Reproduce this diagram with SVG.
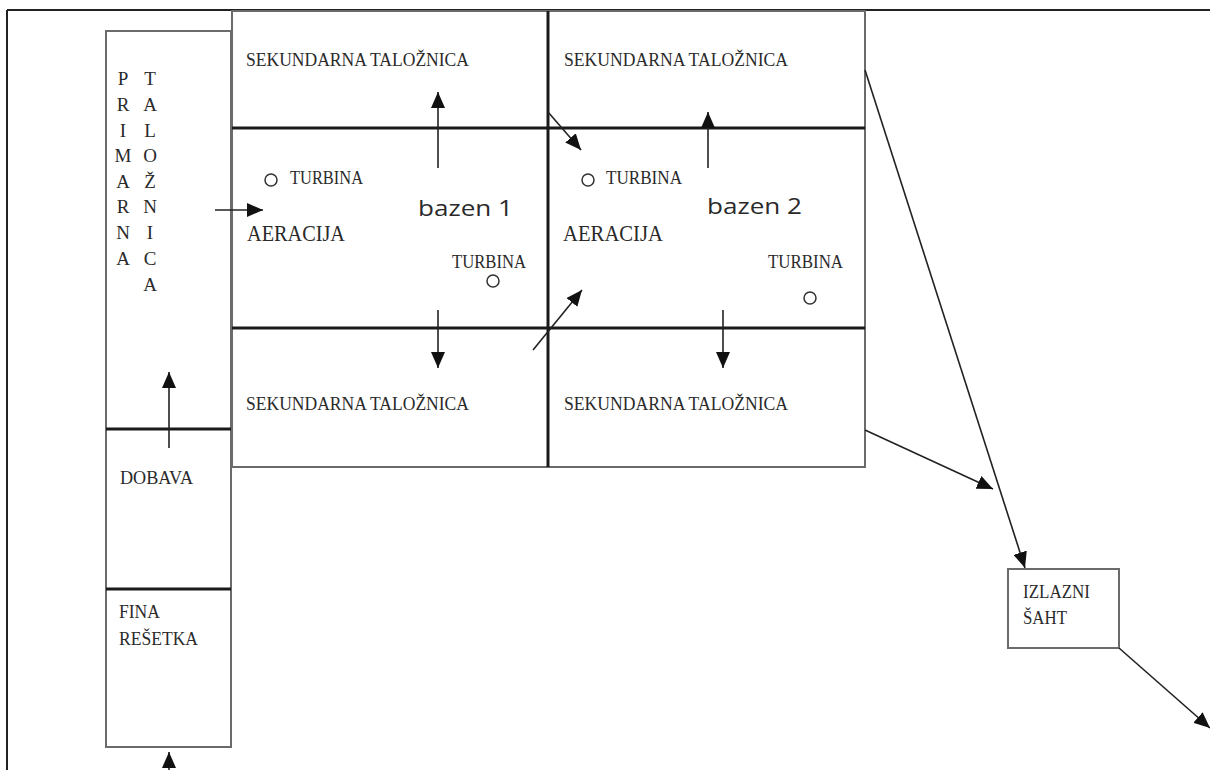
<svg xmlns="http://www.w3.org/2000/svg" width="1210" height="770" viewBox="0 0 1210 770">
<style>
.box{fill:none;stroke:#6b6b6b;stroke-width:2}
.div{stroke:#1a1a1a;stroke-width:3}
.t{font-family:"Liberation Serif","Times New Roman",serif;fill:#2a2a2a;}
.s{font-family:"Open Sans","DejaVu Sans",sans-serif;fill:#2a2a2a;}
.c{fill:none;stroke:#333;stroke-width:1.5}
.a{stroke:#222;stroke-width:1.6;fill:none;marker-end:url(#ah)}
</style>
<defs>
<marker id="ah" viewBox="0 0 16 14" refX="16" refY="7" markerWidth="16" markerHeight="14" markerUnits="userSpaceOnUse" orient="auto">
<path d="M0,0 L16,7 L0,14 z" fill="#111"/>
</marker>
</defs>
<rect width="1210" height="770" fill="#fff"/>
<g id="frame">
<line x1="7" y1="10" x2="1210" y2="10" stroke="#222" stroke-width="2"/>
<line x1="7" y1="10" x2="7" y2="770" stroke="#222" stroke-width="2"/>
</g>
<g id="primarna">
<rect class="box" x="106" y="31" width="125" height="716"/>
<line class="div" x1="106" y1="429" x2="231" y2="429"/>
<line class="div" x1="106" y1="589" x2="231" y2="589"/>
<g class="t" font-size="19" text-anchor="middle">
<text x="123" y="85">P</text><text x="123" y="111">R</text><text x="123" y="137">I</text><text x="123" y="162">M</text><text x="123" y="188">A</text><text x="123" y="213">R</text><text x="123" y="239">N</text><text x="123" y="265">A</text>
<text x="150" y="85">T</text><text x="150" y="111">A</text><text x="150" y="137">L</text><text x="150" y="162">O</text><text x="150" y="188">Ž</text><text x="150" y="213">N</text><text x="150" y="239">I</text><text x="150" y="265">C</text><text x="150" y="291">A</text>
</g>
</g>
<g id="dobava">
<text class="t" x="120" y="484" font-size="19" textLength="73" lengthAdjust="spacingAndGlyphs">DOBAVA</text>
</g>
<g id="fina">
<text class="t" x="119" y="618" font-size="19" textLength="41" lengthAdjust="spacingAndGlyphs">FINA</text>
<text class="t" x="119" y="645" font-size="19" textLength="79" lengthAdjust="spacingAndGlyphs">REŠETKA</text>
</g>
<g id="grid">
<rect class="box" x="232" y="11" width="633" height="456"/>
<line class="div" x1="232" y1="128" x2="865" y2="128"/>
<line class="div" x1="232" y1="328" x2="865" y2="328"/>
<line class="div" x1="548" y1="11" x2="548" y2="467"/>
</g>
<g id="sek1"><text class="t" x="246" y="66" font-size="19" textLength="223" lengthAdjust="spacingAndGlyphs">SEKUNDARNA TALOŽNICA</text></g>
<g id="sek2"><text class="t" x="564" y="66" font-size="19" textLength="224" lengthAdjust="spacingAndGlyphs">SEKUNDARNA TALOŽNICA</text></g>
<g id="sek3"><text class="t" x="246" y="410" font-size="19" textLength="223" lengthAdjust="spacingAndGlyphs">SEKUNDARNA TALOŽNICA</text></g>
<g id="sek4"><text class="t" x="564" y="410" font-size="19" textLength="224" lengthAdjust="spacingAndGlyphs">SEKUNDARNA TALOŽNICA</text></g>
<g id="bazen1">
<circle class="c" cx="271" cy="180" r="6"/>
<text class="t" x="290" y="184" font-size="18" textLength="73" lengthAdjust="spacingAndGlyphs">TURBINA</text>
<text class="s" x="418" y="216" font-size="21" textLength="95" lengthAdjust="spacingAndGlyphs">bazen 1</text>
<text class="t" x="247" y="241" font-size="23" textLength="98" lengthAdjust="spacingAndGlyphs">AERACIJA</text>
<text class="t" x="452" y="268" font-size="18" textLength="74" lengthAdjust="spacingAndGlyphs">TURBINA</text>
<circle class="c" cx="493" cy="281" r="6"/>
</g>
<g id="bazen2">
<circle class="c" cx="588" cy="180" r="6"/>
<text class="t" x="606" y="184" font-size="18" textLength="76" lengthAdjust="spacingAndGlyphs">TURBINA</text>
<text class="s" x="707" y="214" font-size="21" textLength="95" lengthAdjust="spacingAndGlyphs">bazen 2</text>
<text class="t" x="563" y="241" font-size="23" textLength="100" lengthAdjust="spacingAndGlyphs">AERACIJA</text>
<text class="t" x="768" y="268" font-size="18" textLength="75" lengthAdjust="spacingAndGlyphs">TURBINA</text>
<circle class="c" cx="810" cy="298" r="6"/>
</g>
<g id="izlazni">
<rect class="box" x="1008" y="569" width="111" height="79"/>
<text class="t" x="1023" y="598" font-size="18" textLength="67" lengthAdjust="spacingAndGlyphs">IZLAZNI</text>
<text class="t" x="1023" y="624" font-size="18" textLength="44" lengthAdjust="spacingAndGlyphs">ŠAHT</text>
</g>
<g id="connectors">
<line class="a" x1="169" y1="770" x2="169" y2="752"/>
<line class="a" x1="169" y1="448" x2="169" y2="372"/>
<line class="a" x1="215" y1="210" x2="263" y2="210"/>
<line class="a" x1="438" y1="168" x2="438" y2="92"/>
<line class="a" x1="708" y1="168" x2="708" y2="112"/>
<line class="a" x1="438" y1="310" x2="438" y2="368"/>
<line class="a" x1="723" y1="310" x2="723" y2="368"/>
<line class="a" x1="548" y1="112" x2="581" y2="150"/>
<line class="a" x1="533" y1="350" x2="582" y2="290"/>
<line class="a" x1="865" y1="70" x2="1025" y2="568"/>
<line class="a" x1="865" y1="430" x2="993" y2="489"/>
<line class="a" x1="1119" y1="648" x2="1210" y2="728"/>
</g>
</svg>
